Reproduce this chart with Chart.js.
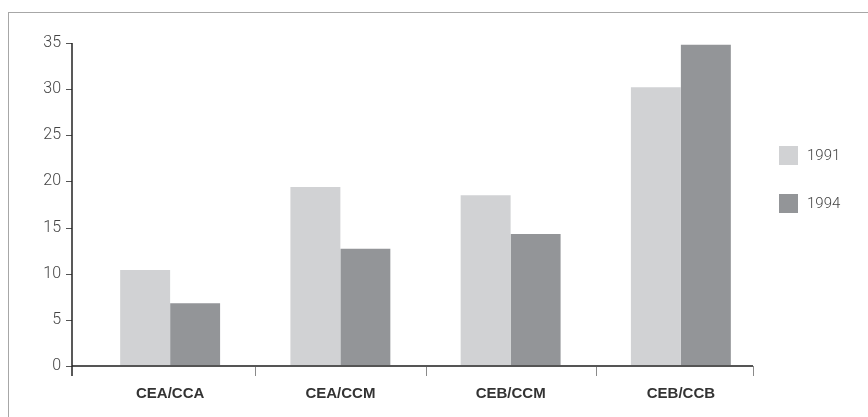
<!DOCTYPE html>
<html>
<head>
	<title>1991 / 1994</title>
	<script src="https://cdn.jsdelivr.net/npm/chart.js@4.4.0/dist/chart.umd.min.js"></script>
	<style type="text/css">
		html, body{
			margin: 0;
			padding: 0;
			background: #fff;
		}
		.frame{
			position: absolute;
			left: 8px;
			top: 12px;
			width: 880px;
			height: 420px;
			border-left: 1px solid #a7a7a7;
			border-top: 1px solid #a7a7a7;
		}
		.wrap{
			position: absolute;
			left: 0;
			top: 0;
			width: 868px;
			height: 417px;
		}
		#legend{
			position: absolute;
			left: 779px;
			top: 146px;
			font-family: 'Roboto', 'Liberation Sans', sans-serif;
			font-weight: 300;
			font-size: 15px;
			color: #444;
		}
		#legend div{
			height: 19px;
			line-height: 19px;
			margin-bottom: 29px;
			white-space: nowrap;
		}
		#legend span{
			display: inline-block;
			width: 19px;
			height: 19px;
			vertical-align: top;
			margin-right: 9px;
		}
	</style>
</head>
<body>
<div class="frame"></div>
<div class="wrap">
	<canvas id="myChart" width="868" height="417"></canvas>
</div>
<div id="legend"></div>

<script>
	// data
	const categories = ['CEA/CCA', 'CEA/CCM', 'CEB/CCM', 'CEB/CCB'];
	const values1991 = [10.4, 19.4, 18.5, 30.2];
	const values1994 = [6.8, 12.7, 14.3, 34.8];
	const seriesNames = ['1991', '1994'];
	const colors = ['#d1d2d4', '#939598'];

	// axis lines + tick marks, drawn a bit like the print version
	const axisLines = {
		id: 'axisLines',
		afterDraw(chart) {
			const ctx = chart.ctx;
			const x = chart.scales.x;
			const y = chart.scales.y;
			const area = chart.chartArea;
			const left = area.left - 13;
			const bottom = y.getPixelForValue(0);
			const half = (x.getPixelForValue(1) - x.getPixelForValue(0)) / 2;

			ctx.save();
			// y ticks
			ctx.strokeStyle = '#555';
			ctx.lineWidth = 1;
			y.ticks.forEach(t => {
				const py = Math.round(y.getPixelForValue(t.value)) + 0.5;
				ctx.beginPath();
				ctx.moveTo(left - 6, py);
				ctx.lineTo(left, py);
				ctx.stroke();
			});
			// x tick marks between categories
			ctx.strokeStyle = '#8a8a8a';
			const marks = [];
			for (let i = 0; i < categories.length - 1; i++) {
				marks.push(x.getPixelForValue(i) + half);
			}
			marks.push(area.right - 13);
			marks.forEach(px => {
				ctx.beginPath();
				ctx.moveTo(Math.round(px) + 0.5, bottom);
				ctx.lineTo(Math.round(px) + 0.5, bottom + 10);
				ctx.stroke();
			});
			// x axis
			ctx.strokeStyle = '#555';
			ctx.lineWidth = 2;
			ctx.beginPath();
			ctx.moveTo(left, bottom);
			ctx.lineTo(area.right - 13, bottom);
			ctx.stroke();
			// y axis
			ctx.strokeStyle = '#222';
			ctx.lineWidth = 1.5;
			ctx.beginPath();
			ctx.moveTo(left, y.getPixelForValue(35));
			ctx.lineTo(left, bottom + 10);
			ctx.stroke();
			ctx.restore();
		}
	};

	let ctx = document.getElementById('myChart').getContext('2d');
	let myChart = new Chart(ctx, {
		type: 'bar',
		data: {
			labels: categories,
			datasets: [
				{ label: seriesNames[0], data: values1991, backgroundColor: colors[0] },
				{ label: seriesNames[1], data: values1994, backgroundColor: colors[1] }
			]
		},
		options: {
			responsive: false,
			animation: false,
			events: [],
			layout: {
				padding: { left: 8, right: 102, top: 43, bottom: 11 }
			},
			datasets: {
				bar: { categoryPercentage: 0.587, barPercentage: 1, borderWidth: 0 }
			},
			plugins: {
				legend: { display: false },
				tooltip: { enabled: false }
			},
			scales: {
				x: {
					grid: { display: false, drawTicks: false },
					border: { display: false },
					afterFit: s => { s.height = 40; },
					ticks: {
						padding: 19,
						color: '#333',
						font: { family: "'Liberation Sans', Arial, sans-serif", size: 15, weight: 'bold' }
					}
				},
				y: {
					min: 0,
					max: 35,
					grid: { display: false, drawTicks: false },
					border: { display: false },
					afterFit: s => { s.width = 77; },
					ticks: {
						stepSize: 5,
						padding: 24,
						color: '#444',
						font: { family: "'Roboto', 'Liberation Sans', sans-serif", size: 16, weight: 300 }
					}
				}
			}
		},
		plugins: [axisLines]
	});

	// html legend from the same series
	const legend = document.getElementById('legend');
	seriesNames.forEach((name, i) => {
		const row = document.createElement('div');
		const box = document.createElement('span');
		box.style.background = colors[i];
		row.appendChild(box);
		row.appendChild(document.createTextNode(name));
		legend.appendChild(row);
	});
</script>
</body>
</html>
